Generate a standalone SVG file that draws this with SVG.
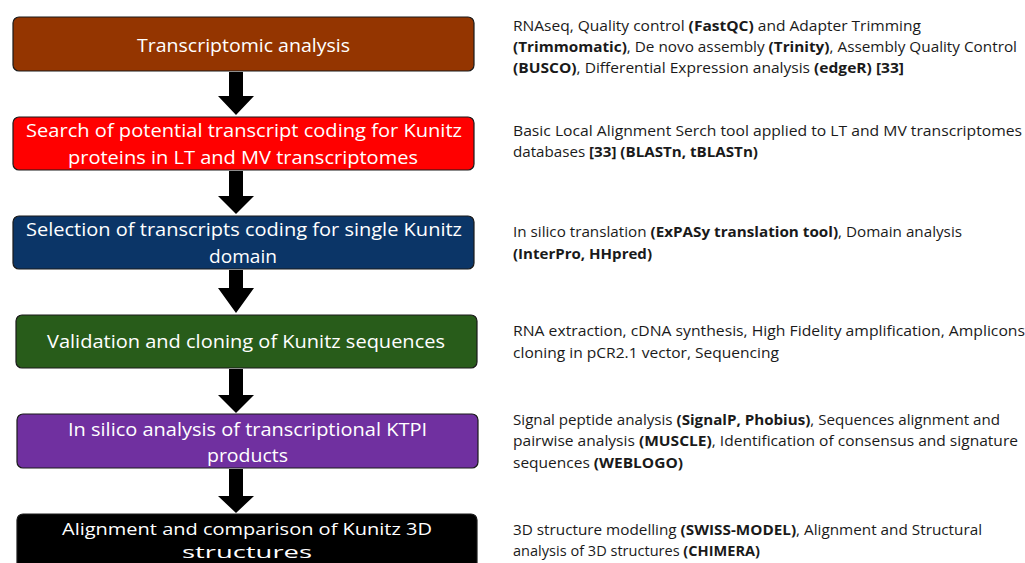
<svg xmlns="http://www.w3.org/2000/svg" width="1025" height="563" viewBox="0 0 1025 563">
<style>
.box{stroke:#1a1a1a;stroke-width:1.2}
.bt{font-family:"Open Sans","Liberation Sans",sans-serif;font-size:19px;fill:#ffffff;text-anchor:middle}
.sm{font-size:17px}
.rt{font-family:"Open Sans","Liberation Sans",sans-serif;font-size:14px;fill:#1a1a1a}
.b{font-weight:bold}
.arrow{fill:#000000}
</style>
<rect width="1025" height="563" fill="#ffffff"/>
<g id="connectors">
<polygon class="arrow" points="229,72 243,72 243,96 254,96 236,115 218,96 229,96"/>
<polygon class="arrow" points="229,171 243,171 243,196 254,196 236,214 218,196 229,196"/>
<polygon class="arrow" points="229,270 243,270 243,288 254,288 236,313 218,288 229,288"/>
<polygon class="arrow" points="229,369 243,369 243,395 254,395 236,413 218,395 229,395"/>
<polygon class="arrow" points="229,469 243,469 243,496 254,496 236,513 218,496 229,496"/>
</g>
<g id="node1">
<rect class="box" x="13" y="17" width="461" height="54" rx="6" fill="#943500"/>
<text class="bt" x="243.5" y="52" textLength="213" lengthAdjust="spacingAndGlyphs">Transcriptomic analysis</text>
</g>
<g id="node2">
<rect class="box" x="13" y="117" width="461" height="53" rx="6" fill="#ff0000"/>
<text class="bt" x="244" y="137" textLength="436" lengthAdjust="spacingAndGlyphs">Search of potential transcript coding for Kunitz</text>
<text class="bt" x="243" y="164" textLength="350" lengthAdjust="spacingAndGlyphs">proteins in LT and MV transcriptomes</text>
</g>
<g id="node3">
<rect class="box" x="13" y="216" width="461" height="53" rx="6" fill="#0b3567"/>
<text class="bt" x="244" y="236" textLength="436" lengthAdjust="spacingAndGlyphs">Selection of transcripts coding for single Kunitz</text>
<text class="bt" x="243" y="263" textLength="68" lengthAdjust="spacingAndGlyphs">domain</text>
</g>
<g id="node4">
<rect class="box" x="16" y="315" width="461" height="53" rx="6" fill="#285c1a"/>
<text class="bt" x="246" y="348" textLength="398" lengthAdjust="spacingAndGlyphs">Validation and cloning of Kunitz sequences</text>
</g>
<g id="node5">
<rect class="box" x="17" y="414" width="461" height="54" rx="6" fill="#7030a0"/>
<text class="bt" x="247.5" y="436" textLength="359" lengthAdjust="spacingAndGlyphs">In silico analysis of transcriptional KTPI</text>
<text class="bt" x="247.5" y="462" textLength="81" lengthAdjust="spacingAndGlyphs">products</text>
</g>
<g id="node6">
<rect class="box" x="17" y="514" width="460" height="60" rx="6" fill="#000000"/>
<text class="bt sm" x="247" y="535" textLength="370" lengthAdjust="spacingAndGlyphs">Alignment and comparison of Kunitz 3D</text>
<text class="bt sm" x="247" y="558" textLength="130" lengthAdjust="spacingAndGlyphs">structures</text>
</g>
<g id="notes">
<text class="rt" x="513" y="31" textLength="408" lengthAdjust="spacingAndGlyphs">RNAseq, Quality control <tspan class="b">(FastQC)</tspan> and Adapter Trimming</text>
<text class="rt" x="513" y="52" textLength="504" lengthAdjust="spacingAndGlyphs"><tspan class="b">(Trimmomatic)</tspan>, De novo assembly <tspan class="b">(Trinity)</tspan>, Assembly Quality Control</text>
<text class="rt" x="513" y="73" textLength="391" lengthAdjust="spacingAndGlyphs"><tspan class="b">(BUSCO)</tspan>, Differential Expression analysis <tspan class="b">(edgeR) [33]</tspan></text>
<text class="rt" x="513" y="136" textLength="509" lengthAdjust="spacingAndGlyphs">Basic Local Alignment Serch tool applied to LT and MV transcriptomes</text>
<text class="rt" x="513" y="157" textLength="245" lengthAdjust="spacingAndGlyphs">databases <tspan class="b">[33] (BLASTn, tBLASTn)</tspan></text>
<text class="rt" x="513" y="237" textLength="449" lengthAdjust="spacingAndGlyphs">In silico translation <tspan class="b">(ExPASy translation tool)</tspan>, Domain analysis</text>
<text class="rt" x="513" y="259" textLength="139" lengthAdjust="spacingAndGlyphs"><tspan class="b">(InterPro, HHpred)</tspan></text>
<text class="rt" x="513" y="336" textLength="512" lengthAdjust="spacingAndGlyphs">RNA extraction, cDNA synthesis, High Fidelity amplification, Amplicons</text>
<text class="rt" x="513" y="358" textLength="266" lengthAdjust="spacingAndGlyphs">cloning in pCR2.1 vector, Sequencing</text>
<text class="rt" x="513" y="425" textLength="487" lengthAdjust="spacingAndGlyphs">Signal peptide analysis <tspan class="b">(SignalP, Phobius)</tspan>, Sequences alignment and</text>
<text class="rt" x="513" y="446" textLength="505" lengthAdjust="spacingAndGlyphs">pairwise analysis <tspan class="b">(MUSCLE)</tspan>, Identification of consensus and signature</text>
<text class="rt" x="513" y="468" textLength="170" lengthAdjust="spacingAndGlyphs">sequences <tspan class="b">(WEBLOGO)</tspan></text>
<text class="rt" x="513" y="535" textLength="469" lengthAdjust="spacingAndGlyphs">3D structure modelling <tspan class="b">(SWISS-MODEL)</tspan>, Alignment and Structural</text>
<text class="rt" x="513" y="556" textLength="247" lengthAdjust="spacingAndGlyphs">analysis of 3D structures <tspan class="b">(CHIMERA)</tspan></text>
</g>
</svg>
